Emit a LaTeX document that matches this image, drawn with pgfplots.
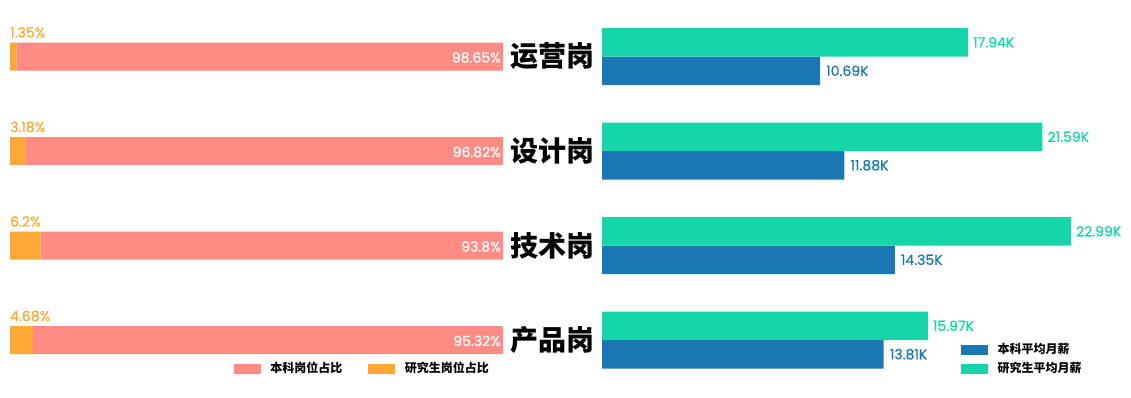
\documentclass[border=0pt]{standalone}
\usepackage{fontspec}
\usepackage{pgfplots}
\pgfplotsset{compat=1.18}
\newfontfamily\cjk{Noto Sans CJK SC}
\newfontfamily\numfont{Poppins}[FakeBold=0.6]
\definecolor{cpink}{HTML}{FF8B85}
\definecolor{corange}{HTML}{FBA834}
\definecolor{cgreen}{HTML}{16D5A8}
\definecolor{cblue}{HTML}{1B77B4}
\tikzset{numlab/.style={font=\numfont\fontsize{14}{14}\selectfont, inner sep=0pt}}
\pgfplotsset{
  geom/.style={scale only axis, height=397pt, ymin=-0.6032, ymax=3.598, clip=false,
    axis line style={draw=none}, tick style={draw=none}, xtick=\empty, ytick=\empty,
    legend style={draw=none, fill=none, inner sep=0pt, font=\cjk\bfseries\fontsize{12}{12}\selectfont,
      nodes={inner sep=1pt}, legend cell align=left}},
  rect/.style={legend image code/.code={\fill[#1] (0pt,-4.5pt) rectangle (26pt,4.5pt);}},
}
\begin{document}
\begin{tikzpicture}[x=1pt,y=1pt]
\useasboundingbox (0,0) rectangle (1131,397);
% left stacked
\begin{axis}[geom, at={(10pt,0pt)}, anchor=south west, width=493pt,
  xmin=0, xmax=100, xbar stacked, bar width=28pt]
\addplot[fill=corange, draw=none, forget plot] coordinates {(4.68,0) (6.2,1) (3.18,2) (1.35,3)};
\addplot[fill=cpink, draw=none, forget plot] coordinates {(95.32,0) (93.8,1) (96.82,2) (98.65,3)};
\end{axis}
% left overlay: labels and legend
\begin{axis}[geom, at={(10pt,0pt)}, anchor=south west, width=493pt, xmin=0, xmax=100,
  legend columns=2, legend style={at={(0.454,0.0718)}, anchor=west,
    /tikz/every odd column/.append style={column sep=9pt},
    /tikz/every even column/.append style={column sep=25pt}}]
\addplot[draw=none, forget plot, nodes near coords, point meta=explicit symbolic,
  nodes near coords align={anchor=base west},
  nodes near coords style={numlab, text=corange, yshift=19pt}]
  coordinates {(0,0)[4.68\%] (0,1)[6.2\%] (0,2)[3.18\%] (0,3)[1.35\%]};
\addplot[draw=none, forget plot, nodes near coords, point meta=explicit symbolic,
  nodes near coords align={anchor=base east},
  nodes near coords style={numlab, text=white, xshift=-2pt, yshift=-6pt}]
  coordinates {(100,0)[95.32\%] (100,1)[93.8\%] (100,2)[96.82\%] (100,3)[98.65\%]};
\addlegendimage{rect=cpink}
\addlegendentry{本科岗位占比}
\addlegendimage{rect=corange}
\addlegendentry{研究生岗位占比}
\end{axis}
% right grouped
\begin{axis}[geom, at={(602pt,0pt)}, anchor=south west, width=510pt,
  xmin=0, xmax=25, xbar, bar width=28.5pt,
  ytick={0,1,2,3}, yticklabels={产品岗,技术岗,设计岗,运营岗},
  major tick length=0pt,
  yticklabel style={font=\cjk\bfseries\fontsize{28}{28}\selectfont, text=black, inner sep=0pt, xshift=-7pt},
  legend columns=1, legend style={at={(0.704,0.0957)}, anchor=west, row sep=5pt,
    /tikz/every odd column/.append style={column sep=9pt}}]
\addplot[fill=cblue, draw=none, forget plot, bar shift=-14.25pt,
  nodes near coords, point meta=explicit symbolic,
  nodes near coords align={anchor=west},
  nodes near coords style={numlab, text=cblue, xshift=6pt}]
  coordinates {(13.81,0)[13.81K] (14.35,1)[14.35K] (11.88,2)[11.88K] (10.69,3)[10.69K]};
\addplot[fill=cgreen, draw=none, forget plot, bar shift=14.25pt,
  nodes near coords, point meta=explicit symbolic,
  nodes near coords align={anchor=west},
  nodes near coords style={numlab, text=cgreen, xshift=5pt}]
  coordinates {(15.97,0)[15.97K] (22.99,1)[22.99K] (21.59,2)[21.59K] (17.94,3)[17.94K]};
\addlegendimage{rect=cblue}
\addlegendentry{本科平均月薪}
\addlegendimage{rect=cgreen}
\addlegendentry{研究生平均月薪}
\end{axis}
\end{tikzpicture}
\end{document}
